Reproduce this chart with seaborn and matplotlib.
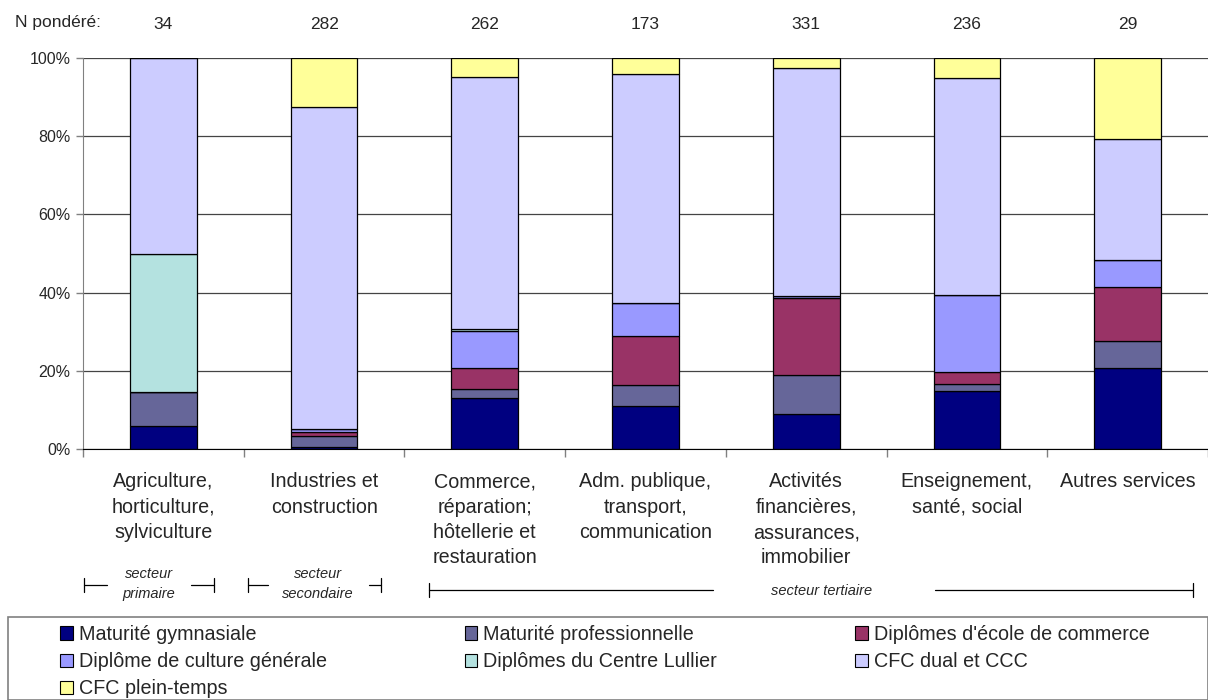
import matplotlib.pyplot as plt
import matplotlib.patches as mpatches
import numpy as np
import seaborn as sns

sns.set_style("white")
plt.rcParams['font.family'] = ['Liberation Sans', 'DejaVu Sans']

categories = ["Agriculture,\nhorticulture,\nsylviculture",
              "Industries et\nconstruction",
              "Commerce,\nréparation;\nhôtellerie et\nrestauration",
              "Adm. publique,\ntransport,\ncommunication",
              "Activités\nfinancières,\nassurances,\nimmobilier",
              "Enseignement,\nsanté, social",
              "Autres services"]
n_weighted = [34, 282, 262, 173, 331, 236, 29]

series_names = ["Maturité gymnasiale", "Maturité professionnelle",
                "Diplômes d'école de commerce", "Diplôme de culture générale",
                "Diplômes du Centre Lullier", "CFC dual et CCC", "CFC plein-temps"]
maturite_gymnasiale = [5.9, 0.4, 13.0, 11.0, 9.0, 14.9, 20.7]
maturite_pro = [8.8, 2.9, 2.4, 5.3, 9.8, 1.6, 6.9]
ecole_commerce = [0.0, 1.0, 5.3, 12.5, 19.8, 3.1, 13.8]
culture_generale = [0.0, 0.7, 9.6, 8.6, 0.5, 19.8, 6.9]
centre_lullier = [35.3, 0.0, 0.5, 0.0, 0.0, 0.0, 0.0]
cfc_dual = [50.0, 82.5, 64.4, 58.5, 58.4, 55.5, 31.0]
cfc_plein = [0.0, 12.5, 4.8, 4.1, 2.5, 5.1, 20.7]
series = [maturite_gymnasiale, maturite_pro, ecole_commerce, culture_generale,
          centre_lullier, cfc_dual, cfc_plein]
colors = ["#000080", "#666699", "#993366", "#9999FF", "#B4E2E0", "#CCCCFF", "#FFFF99"]

W, H = 1208, 700
fig = plt.figure(figsize=(W / 100, H / 100), dpi=100)
ax = fig.add_axes([83 / W, 1 - 449 / H, 1 - 83 / W, (449 - 58) / H])

x = np.arange(len(categories))
bottom = np.zeros(len(categories))
for vals, col in zip(series, colors):
    sns.barplot(x=x, y=vals, bottom=bottom, color=col, saturation=1, width=0.415,
                edgecolor="black", linewidth=0.9, ax=ax, native_scale=True)
    bottom = bottom + np.array(vals)

ax.set_xlim(-0.5, len(categories) - 0.5)
ax.set_ylim(0, 100)
ax.set_yticks([0, 20, 40, 60, 80, 100])
ax.set_yticklabels([f"{v}%" for v in [0, 20, 40, 60, 80, 100]], fontsize=11.5)
ax.yaxis.grid(True, color="#444444", linewidth=0.9)
ax.set_axisbelow(True)
ax.tick_params(axis="y", length=5, width=1, color="#808080", left=True, pad=4)
ax.set_xticks(x)
ax.set_xticklabels([])
ax.tick_params(axis="x", which="major", length=0)
ax.set_xticks(np.arange(-0.5, len(categories)), minor=True)
ax.tick_params(axis="x", which="minor", length=6, width=1, color="#808080", bottom=True)
ax.set_xlabel("")
ax.set_ylabel("")
for s in ["top", "right"]:
    ax.spines[s].set_visible(False)
ax.spines["left"].set_color("#808080")
ax.spines["bottom"].set_color("black")

tr = ax.get_xaxis_transform()
for i, lab in enumerate(categories):
    ax.text(i, -0.06, lab, transform=tr, ha="center", va="top", fontsize=14.2,
            linespacing=1.42)
    ax.text(i, 1.085, str(n_weighted[i]), transform=tr, ha="center", va="center",
            fontsize=12.5)
fig.text(15 / W, 1 - 22 / H, "N pondéré:", ha="left", va="center", fontsize=12.5)


def px(xp, yp):
    return xp / W, 1 - yp / H


def bracket(x0, x1, y, caps=(True, True)):
    fig.add_artist(plt.Line2D([x0 / W, x1 / W], [1 - y / H] * 2, color="black", lw=0.9))
    for xc, c in zip((x0, x1), caps):
        if c:
            fig.add_artist(plt.Line2D([xc / W] * 2, [1 - (y - 7) / H, 1 - (y + 7) / H],
                                      color="black", lw=0.9))


bracket(84, 107, 585, caps=(True, False))
bracket(191, 214, 585, caps=(False, True))
fig.text(*px(149, 584), "secteur\nprimaire", ha="center", va="center", fontsize=10.5,
         style="italic", linespacing=1.6)
bracket(248, 268, 585, caps=(True, False))
bracket(369, 381, 585, caps=(False, True))
fig.text(*px(318, 584), "secteur\nsecondaire", ha="center", va="center", fontsize=10.5,
         style="italic", linespacing=1.6)
bracket(429, 713, 590, caps=(True, False))
bracket(935, 1193, 590, caps=(False, True))
fig.text(*px(822, 591), "secteur tertiaire", ha="center", va="center", fontsize=10.5,
         style="italic")

fig.add_artist(mpatches.Rectangle((8 / W, 0), 1 - 8 / W, (700 - 617) / H,
                                  transform=fig.transFigure, fill=False,
                                  edgecolor="#808080", linewidth=1.2))
handles = [mpatches.Patch(facecolor=c, edgecolor="black", linewidth=0.8, label=n)
           for n, c in zip(series_names, colors)]
order = [0, 3, 6, 1, 4, 2, 5]
fig.legend([handles[i] for i in order], [series_names[i] for i in order],
           loc="upper left", bbox_to_anchor=(50 / W, 1 - 615 / H), ncol=3,
           frameon=False, fontsize=14.2, handlelength=0.65, handleheight=0.65,
           handletextpad=0.3, columnspacing=7.0, labelspacing=0.42, borderpad=0)

fig.savefig("out.png", dpi=100)
